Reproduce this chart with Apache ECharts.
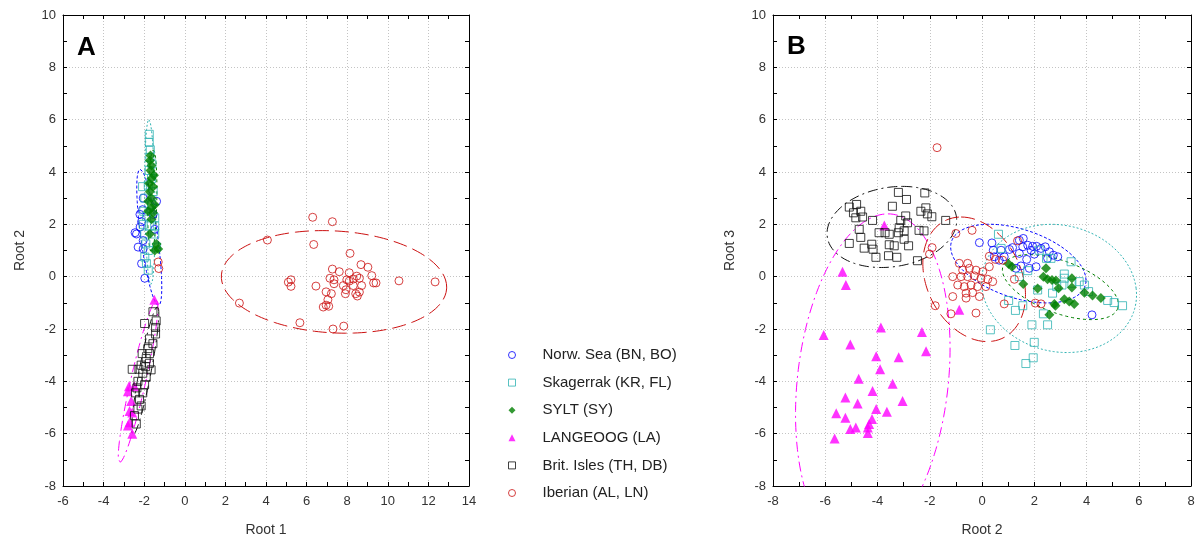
<!DOCTYPE html>
<html><head><meta charset="utf-8">
<script src="https://cdn.jsdelivr.net/npm/echarts@6/dist/echarts.min.js"></script>
<style>html,body{margin:0;padding:0;background:#fff}#c{width:1199px;height:542px}</style>
</head><body><div id="c"></div>
<script>
// ---------- names ----------
const groupNames = ['Norw. Sea (BN, BO)','Skagerrak (KR, FL)','SYLT (SY)','LANGEOOG (LA)','Brit. Isles (TH, DB)','Iberian (AL, LN)'];
const axisA_x = [-6, 14, 2];
const axisA_y = [-8, 10, 2];
const axisB_x = [-8, 8, 2];
const axisB_y = [-8, 10, 2];

// ---------- Panel A (Root 1 vs Root 2) ----------
const norwA = [[-2.05,3.0],[-2.08,2.56],[-2.21,2.38],[-2.13,2.1],[-2.38,1.63],[-2.30,1.13],[-2.05,1.06],[-2.13,0.5],[-1.97,-0.06],[-1.48,1.81],[-1.39,2.88],[-2.05,1.38],[-1.56,2.38],[-2.2,1.9],[-2.45,1.68]];
const skagA = [[-1.75,5.44],[-1.75,5.13],[-1.70,4.85],[-1.72,4.56],[-1.62,4.31],[-1.75,4.06],[-1.64,3.75],[-2.08,3.44],[-1.80,3.5],[-1.56,3.25],[-1.97,3.0],[-1.64,2.75],[-2.02,2.5],[-1.89,2.31],[-1.48,2.25],[-2.05,2.0],[-1.75,1.94],[-1.97,1.63],[-1.48,1.63],[-1.92,1.25],[-1.80,1.0],[-1.39,1.13],[-1.97,0.75],[-1.89,0.5],[-1.80,0.25],[-1.48,1.94]];
const syltA = [[-1.69,4.63],[-1.72,4.44],[-1.64,4.25],[-1.69,4.06],[-1.64,3.75],[-1.75,3.56],[-1.56,3.44],[-1.72,3.25],[-1.64,3.0],[-1.80,2.88],[-1.48,2.75],[-1.64,2.63],[-1.80,2.5],[-1.56,2.44],[-1.64,2.19],[-1.72,1.63],[-1.39,1.25],[-1.31,1.06],[-1.48,1.0],[-1.52,3.88]];
const langA = [[-1.50,-0.88],[-2.75,-4.19],[-2.80,-4.38],[-2.64,-4.75],[-2.72,-5.13],[-2.72,-5.56],[-2.59,-6.0],[-2.48,-4.19],[-2.59,-5.19],[-2.80,-5.69]];
const britA = [[-1.57,-1.34],[-1.98,-1.79],[-1.44,-1.94],[-1.44,-2.19],[-1.74,-2.38],[-1.57,-2.56],[-1.82,-2.75],[-2.10,-2.94],[-1.74,-2.94],[-1.90,-3.13],[-2.15,-3.38],[-1.74,-3.31],[-2.59,-3.54],[-2.26,-3.54],[-1.93,-3.44],[-1.90,-3.84],[-2.31,-4.0],[-1.98,-4.13],[-2.36,-4.25],[-2.07,-4.44],[-2.23,-4.69],[-2.31,-5.06],[-2.48,-5.31],[-2.15,-4.94],[-2.43,-4.44],[-2.07,-3.69],[-1.66,-3.56],[-1.41,-1.69],[-2.39,-5.63]];
const iberA = [[6.30,2.27],[7.27,2.10],[4.07,1.40],[6.35,1.23],[8.14,0.89],[8.68,0.46],[9.02,0.36],[7.27,0.29],[7.61,0.19],[8.10,0.15],[9.21,0.04],[7.15,-0.06],[8.47,0.02],[8.60,-0.06],[5.23,-0.12],[5.10,-0.21],[7.35,-0.12],[8.10,-0.17],[9.30,-0.24],[9.42,-0.24],[10.55,-0.16],[12.33,-0.20],[5.23,-0.37],[6.46,-0.36],[7.35,-0.27],[7.81,-0.34],[8.30,-0.34],[8.71,-0.34],[6.96,-0.58],[7.22,-0.65],[7.91,-0.65],[8.42,-0.65],[8.50,-0.74],[8.60,-0.59],[7.05,-0.88],[6.96,-1.09],[7.09,-1.13],[6.82,-1.16],[2.69,-1.01],[5.67,-1.76],[7.30,-2.0],[7.83,-1.89],[7.94,-0.50],[7.98,-0.12],[8.30,-0.09],[-1.31,0.56],[-1.28,0.31]];

// ---------- Panel B (Root 2 vs Root 3) ----------
const norwB = [[-0.10,1.30],[0.38,1.29],[0.43,1.01],[0.73,1.01],[1.05,1.04],[0.47,0.76],[1.43,1.39],[1.58,1.46],[1.75,1.20],[1.94,1.16],[2.09,1.16],[2.26,1.08],[2.42,1.14],[2.58,0.95],[2.73,0.82],[2.90,0.76],[1.88,1.01],[2.0,0.86],[1.71,0.66],[1.49,0.41],[1.81,0.32],[2.07,0.38],[1.43,0.89],[0.85,0.76],[0.66,0.63],[4.21,-1.46],[1.17,1.11],[1.56,1.14],[2.51,0.70],[1.30,0.32]];
const skagB = [[0.63,1.62],[0.73,1.08],[1.43,0],[2.19,1.01],[2.47,0.70],[2.64,0.70],[3.41,0.57],[3.15,0.10],[3.15,-0.06],[3.06,-0.32],[3.44,-0.25],[3.72,-0.19],[3.92,-0.32],[4.08,-0.57],[4.81,-0.91],[5.06,-0.99],[5.38,-1.11],[1.75,0.23],[1.56,-1.11],[1.02,-0.91],[1.28,-1.29],[2.35,-1.42],[1.91,-1.84],[2.51,-1.84],[0.32,-2.03],[1.26,-2.63],[2.0,-2.51],[1.68,-3.32],[1.96,-3.10],[2.70,-0.63],[2.86,-0.38],[2.13,-0.51]];
const syltB = [[1.02,0.48],[1.15,0.38],[2.45,0.32],[1.58,-0.28],[2.35,0],[2.51,-0.10],[2.68,-0.13],[2.83,-0.15],[2.93,-0.44],[3.44,-0.06],[3.44,-0.41],[2.13,-0.45],[3.15,-0.86],[3.34,-0.95],[3.53,-1.04],[2.77,-1.04],[2.81,-1.11],[3.92,-0.61],[4.23,-0.72],[4.55,-0.82],[2.58,-1.46]];
const langB = [[-3.74,1.96],[-5.34,0.19],[-5.21,-0.32],[-3.87,-1.94],[-6.06,-2.23],[-2.30,-2.11],[-5.04,-2.59],[-2.14,-2.85],[-4.05,-3.04],[-3.19,-3.08],[-3.90,-3.54],[-4.72,-3.90],[-3.42,-4.09],[-4.19,-4.37],[-5.23,-4.62],[-3.04,-4.75],[-4.76,-4.85],[-4.05,-5.06],[-3.64,-5.16],[-5.58,-5.22],[-5.23,-5.39],[-4.21,-5.44],[-4.32,-5.63],[-5.04,-5.82],[-4.83,-5.76],[-4.37,-5.76],[-4.37,-5.97],[-5.64,-6.18],[-0.87,-1.26]];
const britB = [[-3.20,3.22],[-2.89,2.95],[-2.19,3.20],[-5.08,2.66],[-4.80,2.76],[-4.92,2.44],[-4.64,2.50],[-4.83,2.25],[-4.57,2.28],[-3.43,2.69],[-2.15,2.63],[-2.09,2.40],[-2.34,2.50],[-1.92,2.29],[-1.39,2.15],[-4.19,2.15],[-2.92,2.32],[-3.11,2.15],[-2.85,2.06],[-3.17,1.87],[-2.98,1.75],[-2.41,1.77],[-2.22,1.75],[-4.70,1.81],[-4.64,1.50],[-5.08,1.27],[-3.94,1.68],[-3.71,1.68],[-3.55,1.62],[-3.20,1.68],[-2.98,1.43],[-4.51,1.09],[-4.22,1.24],[-4.17,1.05],[-4.06,0.74],[-3.55,1.22],[-3.36,1.18],[-3.58,0.80],[-3.26,0.74],[-2.81,1.18],[-2.47,0.61]];
const iberB = [[-0.38,1.77],[-1.0,1.65],[-1.91,1.11],[-2.01,0.86],[1.36,1.37],[0.28,0.78],[0.51,0.66],[0.79,0.63],[-0.74,0.25],[-0.48,0.32],[-0.23,0.25],[0.03,0.19],[-1.12,0],[-0.80,0],[-0.55,0],[-0.29,0.03],[-0.04,-0.06],[0.22,-0.10],[0.41,-0.19],[-0.93,-0.32],[-0.68,-0.38],[-0.42,-0.32],[-0.17,-0.38],[0.15,-0.38],[-0.61,-0.63],[-0.36,-0.61],[-0.10,-0.76],[-0.61,-0.82],[-1.12,-0.76],[-1.79,-1.11],[-1.19,-1.42],[-0.23,-1.39],[0.85,-1.04],[1.24,-0.10],[2.04,-1.01],[2.26,-1.04],[-0.87,0.51],[-0.55,0.51],[0.28,0.38],[-1.72,4.93]];

// ---------- confidence ellipses: [cx, cy, ux, uy, vx, vy] (centre + conjugate semi-diameters) ----------
const ellA = [
  [-1.75, 1.5, -0.45, 2.6, 0.42, 0],
  [-1.72, 2.85, -0.05, 3.15, 0.25, 0],
  [-1.6, 2.9, 0.05, 1.95, 0.22, 0],
  [-2.3, -4.0, 0.9, 3.1, 0.38, 0],
  [-1.95, -3.6, 0.6, 2.45, 0.3, 0],
  [7.35, -0.2, 5.55, -0.2, 0, 1.95]
];
const ellB = [
  [1.39, 0.5, 2.59, -0.64, 0, 1.36],
  [2.95, -0.45, 2.95, 0, -0.3, 2.45],
  [3.0, -0.4, 2.2, -0.8, 0.3, 0.95],
  [-4.18, -4.0, 0.58, 6.4, 2.9, 0],
  [-3.45, 1.9, 0.4, 1.55, 2.45, 0],
  [-0.3, -0.1, -0.5, 2.38, 1.9, 0]
];

// ---------- styles ----------
const colors = ['#0000ff', '#2fb3b3', '#007f00', '#ff00ff', '#111111', '#cc1111'];
const symbols = ['circle', 'rect', 'diamond', 'triangle', 'rect', 'circle'];
const sizes = [8, 8, 10, 10, 8, 8];
const hollow = [true, true, false, false, true, true];
const dashes = [[3,2], [2,2], [3,3], [10,4,2,4], [10,4,2,4], [14,6]];
const FONT = 'Liberation Sans, Arial, sans-serif';

function ellipse(p) {
  const [cx, cy, ux, uy, vx, vy] = p; const pts = [];
  for (let i = 0; i <= 180; i++) {
    const t = i / 180 * 2 * Math.PI;
    pts.push([cx + ux * Math.cos(t) + vx * Math.sin(t), cy + uy * Math.cos(t) + vy * Math.sin(t)]);
  }
  return pts;
}

function axis(dim, gridIndex, r, position, main, name) {
  return {
    type: 'value', gridIndex, min: r[0], max: r[1], interval: r[2], position,
    axisLine: { show: true, onZero: false, lineStyle: { color: '#000', width: 1 } },
    axisTick: { show: true, inside: true, length: 4, lineStyle: { color: '#000' } },
    minorTick: { show: true, splitNumber: 2, length: 4, lineStyle: { color: '#000' } },
    axisLabel: { show: main, color: '#333', fontSize: 13, fontFamily: FONT, margin: dim === 'x' ? 9 : 7 },
    splitLine: { show: main, lineStyle: { color: '#c4c4c4', type: [1, 2], width: 1 } },
    name: main ? name : '', nameLocation: 'middle', nameGap: dim === 'x' ? 37 : 36,
    nameTextStyle: { color: '#333', fontSize: 14, fontFamily: FONT }
  };
}

const series = [];
const panels = [[norwA, skagA, syltA, langA, britA, iberA], [norwB, skagB, syltB, langB, britB, iberB]];
const ells = [ellA, ellB];
for (let p = 0; p < 2; p++) {
  for (let g = 0; g < 6; g++) {
    series.push({
      type: 'line', name: 'ell' + p + '_' + g, xAxisIndex: p * 2, yAxisIndex: p * 2,
      data: ellipse(ells[p][g]), showSymbol: false, symbol: 'none', silent: true, z: 2,
      lineStyle: { color: colors[g], width: 1, type: dashes[g] }, animation: false
    });
  }
  for (let g = 0; g < 6; g++) {
    series.push({
      type: 'scatter', name: groupNames[g], xAxisIndex: p * 2, yAxisIndex: p * 2,
      data: panels[p][g], symbol: symbols[g], symbolSize: sizes[g], z: 3,
      itemStyle: hollow[g] ? { color: 'rgba(255,255,255,0)', borderColor: colors[g], borderWidth: 1 } : { color: colors[g], borderWidth: 0 },
      animation: false
    });
  }
}

const chart = echarts.init(document.getElementById('c'), null, { renderer: 'canvas' });
chart.setOption({
  backgroundColor: '#fff',
  animation: false,
  grid: [
    { left: 63, top: 15, width: 406, height: 476 },
    { left: 773, top: 15, width: 418, height: 476 }
  ],
  xAxis: [
    axis('x', 0, axisA_x, 'bottom', true, 'Root 1'),
    axis('x', 0, axisA_x, 'top', false, ''),
    axis('x', 1, axisB_x, 'bottom', true, 'Root 2'),
    axis('x', 1, axisB_x, 'top', false, '')
  ],
  yAxis: [
    axis('y', 0, axisA_y, 'left', true, 'Root 2'),
    axis('y', 0, axisA_y, 'right', false, ''),
    axis('y', 1, axisB_y, 'left', true, 'Root 3'),
    axis('y', 1, axisB_y, 'right', false, '')
  ],
  legend: {
    data: groupNames.map((n, i) => ({ name: n, itemStyle: hollow[i] ? { color: 'rgba(255,255,255,0)', borderColor: colors[i], borderWidth: 1 } : { color: colors[i] } })),
    orient: 'vertical', left: 508, top: 347, padding: 0,
    itemWidth: 7, itemHeight: 7, itemGap: 11.6, selectedMode: false,
    textStyle: { fontSize: 15, color: '#222', fontFamily: FONT, lineHeight: 16, padding: [0, 0, 0, 22] }
  },
  graphic: [
    { type: 'text', left: 77, top: 35, style: { text: 'A', font: 'bold 26px ' + FONT, fill: '#000' } },
    { type: 'text', left: 787, top: 34, style: { text: 'B', font: 'bold 26px ' + FONT, fill: '#000' } }
  ],
  series
});
</script>
</body></html>
